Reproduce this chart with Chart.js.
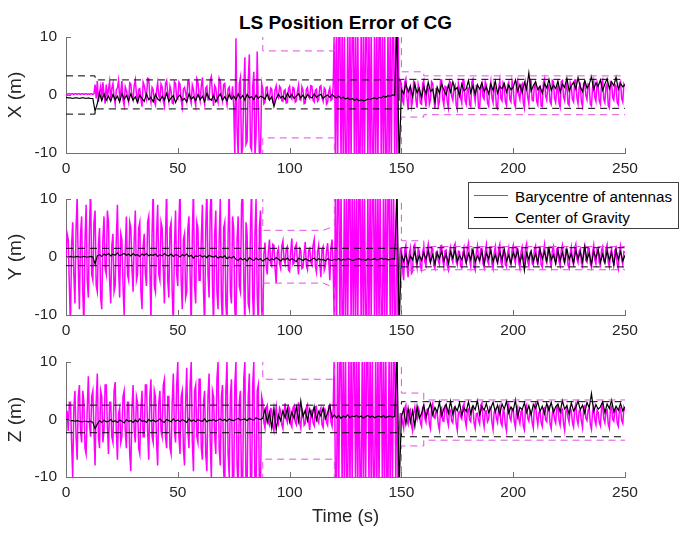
<!DOCTYPE html>
<html>
<head>
<meta charset="utf-8">
<script src="https://cdn.jsdelivr.net/npm/chart.js@4.4.1/dist/chart.umd.min.js"></script>
<style>
body { margin: 0; background: #fff; width: 680px; height: 533px; position: relative; overflow: hidden; font-family: Arial, "Liberation Sans", sans-serif; }
canvas { position: absolute; left: 0; }
#title { position: absolute; left: 0; width: 691px; top: 13px; line-height: 1; text-align: center; font-weight: bold; font-size: 19px; color: #000; }
#legend { position: absolute; left: 468px; top: 182px; width: 209px; height: 45px; border: 1px solid #404040; background: #fff; z-index: 5; font-size: 15.2px; line-height: 17px; color: #000; }
#legend .ln { position: absolute; left: 5px; width: 34px; height: 0; }
#legend .tx { position: absolute; left: 46px; white-space: nowrap; }
</style>
</head>
<body>
<div id="title">LS Position Error of CG</div>
<canvas id="cx" width="680" height="180" style="top:0px"></canvas>
<canvas id="cy" width="680" height="170" style="top:170px"></canvas>
<canvas id="cz" width="680" height="193" style="top:340px"></canvas>
<div id="legend">
  <div class="ln" style="top:12px;border-top:1px solid #ff00ff"></div>
  <div class="tx" style="top:5px">Barycentre of antennas</div>
  <div class="ln" style="top:34px;border-top:1px solid #000"></div>
  <div class="tx" style="top:26px">Center of Gravity</div>
</div>
<script>
// sample grids: barycentre every 0.5 s, CG every 1 s
const magTime = [];
for (let i = 0; i <= 500; i++) magTime.push(i / 2);
const cgTime = [];
for (let t = 0; t <= 250; t++) cgTime.push(t);

// ---- X error ----
const magX = [
  0.2, 0.1, 0.2, 0.2, 0.1, 0.2, 0.2, 0.1, 0.2, 0.2, 0.1, 0.2, 0.2, 0.1, 0.2, 0.2, 0.1, 0.2, 0.2, 0.1,
  0.2, 0.1, 0.2, 0.2, 0.1, 0.2, 1.8, -0.6, 2.4, -1.2, 0.5, 1.5, -0.8, 2.2, 0.3, -1.5, 1.8, -0.4, 1.0, 2.3,
  -1.0, 1.2, 2.0, -0.3, -1.6, 0.9, 1.2, 2.5, -0.5, 0.6, 2.4, -0.9, -1.8, 1.4, 0.8, -0.2, -1.2, 2.1, 1.9, -0.4,
  -0.9, 1.6, 2.6, 0.2, -1.4, 1.0, 1.1, -0.7, -2.0, 2.2, 1.6, 0.4, -0.6, 2.9, 2.8, -0.3, -1.3, 1.3, 0.9, -1.1,
  -1.7, 0.8, 2.1, -0.2, -0.8, 1.9, 1.4, -1.0, -1.9, 2.0, 2.5, 0.3, -1.1, 1.5, 0.7, -1.4, -1.5, 2.3, 2.0, -0.5,
  -0.7, 2.2, 1.8, -0.9, -2.1, 1.0, 1.3, 0.4, -0.9, 2.4, 2.6, -0.6, -1.4, 1.7, 1.0, -0.8, -1.8, 2.8, 2.2, 0.1,
  -1.0, 1.5, 3.0, -0.4, -1.6, 1.2, 1.5, -0.8, -0.8, 2.6, 3.2, 0.0, -1.9, 1.6, 1.2, -0.6, -1.3, 2.9, 2.4, -0.2,
  -1.1, 1.8, 2.0, -0.6, -1.7, 1.1, 1.4, -0.5, -0.6, 1.5, -2.0, -10.5, 9.8, -6.0, -10.5, 2.0, 3.0, -10.5, -9.0, 1.0,
  6.5, -8.5, -8.0, 2.5, 7.0, -9.0, -9.5, 1.5, 4.0, -10.5, -7.0, 7.5, -2.0, -10.5, -10.5, 2.0, 1.0, -1.5, -1.2, 1.3,
  1.4, -0.6, -0.8, 1.2, 1.0, -1.3, -1.5, 0.9, 1.6, -0.2, -0.5, 1.5, 1.2, -1.0, -1.1, 0.7, 0.9, -1.4, -1.3, 1.1,
  1.5, -0.4, -0.7, 1.3, 1.1, -1.2, -1.0, 0.6, 1.7, -0.8, -0.9, 1.4, 0.8, -1.5, -1.4, 1.0, 1.3, -0.3, -0.6, 1.6,
  1.5, -0.9, -1.2, 0.8, 1.0, -1.1, -0.8, 1.4, 1.6, -0.5, -1.1, 1.2, 0.9, -1.6, -1.3, 0.6, 1.2, -0.9, -0.7, 1.5,
  12, -12, 12, -12, 12, 12, -12, 12, -12, 12, -12, -12, 12, -12, 12, -12, 12, 12, -12, 12,
  -12, 12, -12, -12, 12, -12, 12, -12, 12, 12, -12, 12, -12, 12, -12, -12, 12, -12, 12, -12,
  12, 12, -12, 12, -12, 12, -12, -12, 12, -12, 12, -12, 12, 12, -12, 12, -12, 12, -1.0, 2.5,
  2.0, -1.0, -1.5, 2.2, 2.8, -0.5, -2.6, 1.0, 1.5, -2.0, -1.0, 2.4, 2.2, -0.9, -2.2, 1.8, 0.8, -1.4, -1.6, 2.0,
  2.5, -0.6, -2.0, 1.4, 1.2, -1.6, -0.8, 2.3, 2.0, -0.4, -2.4, 1.1, 1.0, -1.9, -1.2, 2.6, 2.6, -0.7, -1.8, 1.5,
  1.4, -1.2, -2.2, 2.4, 2.1, -0.2, -0.9, 1.3, 1.7, -1.8, -2.5, 2.0, 0.9, -0.5, -1.4, 2.5, 2.4, -1.0, -1.6, 1.2,
  1.2, -1.7, -2.0, 2.2, 2.7, 0.1, -1.1, 1.6, 1.5, -2.3, -2.3, 1.4, 2.0, -0.3, -0.7, 2.3, 1.8, -1.4, -1.9, 0.9,
  2.3, -0.5, -1.3, 1.9, 1.1, -2.1, -2.4, 1.2, 2.5, -0.6, -1.0, 2.1, 1.6, -1.2, -1.8, 1.7, 2.2, -0.8, -1.2, 2.4,
  1.4, -1.5, -2.1, 2.0, 2.6, 0.0, -0.8, 1.5, 1.9, -1.3, -2.2, 2.2, 1.3, -0.4, -1.5, 2.7, 2.4, -0.9, -1.0, 1.8,
  2.0, -1.1, -1.7, 1.3, 1.5, -1.9, -2.0, 2.1, 2.8, -0.2, -0.9, 1.6, 1.7, -1.2, -1.6, 2.5, 2.3, -0.6, -1.3, 1.0,
  1.6, -1.4, -2.1, 2.3, 2.5, -0.3, -1.0, 1.2, 2.0, -1.5, -1.8, 2.1, 1.4, -0.8, -1.2, 2.6, 2.6, -0.5, -1.5, 1.4,
  1.8, -1.2, -2.0, 2.0, 2.2, -0.1, -0.8, 1.9, 1.7, -1.6, -1.9, 1.3, 2.4, -0.4, -1.1, 2.2, 1.5, -1.0, -1.6, 2.1,
  2.6, -0.7, -1.3, 1.5, 1.9, -1.8, -2.2, 2.3, 2.1, -0.5, -0.9, 1.8, 1.6, -1.3, -1.7, 2.0, 2.3, -0.6, -1.2, 1.9,
  1.5
];
const cgX = [
  -0.4, -0.5, -0.5, -0.6, -0.5, -0.5, -0.6, -0.5, -0.5, -0.6,
  -0.5, -0.6, -0.6, -2.8, -1.5, 0.3, -1.0, 0.2, -0.9, -0.2,
  -1.1, 0.1, -0.8, -0.2, -1.2, 0.3, -0.7, -0.1, -1.0, 0.2,
  -0.9, -0.3, -1.3, 0.0, -0.6, -1.1, 0.2, -0.8, -0.4, -1.2,
  0.1, -0.7, -1.0, -0.2, -0.9, 0.3, -1.1, -0.5, -0.1, -1.3,
  -0.4, 0.0, -0.9, -0.6, -1.2, 0.2, -0.7, -0.3, -1.0, 0.1,
  -0.8, -0.2, -1.1, 0.3, -0.6, -0.9, 0.0, -1.2, -0.4, 0.2,
  -0.9, -0.3, -1.0, 0.1, -0.7, -0.2, -0.8, 0.2, -0.6, -0.1,
  -0.9, 0.1, -0.5, -0.3, -0.8, 0.0, -0.6, -0.2, -0.4, -0.7,
  0.2, -0.9, -0.3, -2.0, -0.6, 0.1, -0.5, -0.2, -0.8, 0.3,
  -0.4, 0.1, -0.6, -0.2, 0.2, -0.5, 0.0, -0.7, 0.1, -0.3,
  -0.5, 0.2, -0.4, -0.1, 0.1, -0.6, -0.2, 0.0, -0.4, 0.1,
  -0.3, -0.5, -0.2, -0.6, -0.4, -0.7, -0.5, -0.8, -0.6, -0.9,
  -0.7, -1.0, -0.8, -1.0, -0.9, -0.7, -0.8, -0.6, -0.5, -0.7,
  -0.4, -0.5, -0.2, -0.4, -0.1, -0.2, 0.0, -0.1, 12, -12,
  1.0, 0.2, 2.0, 0.5, 1.5, -0.3, 1.8, 0.4, 1.2, -0.5,
  1.6, 0.1, 2.2, 0.6, 1.0, -1.2, 1.4, 0.3, 2.0, 0.8,
  0.0, 1.7, 0.5, 2.3, 0.9, 1.3, -0.2, 1.9, 0.7, 1.1,
  2.5, 0.4, 1.6, 0.1, 1.8, 1.0, 2.1, 0.6, 1.4, 0.2,
  1.9, 0.8, 2.4, 0.3, 1.5, 1.1, 2.0, 0.5, 1.7, 0.9,
  1.3, 2.6, 0.6, 1.8, 0.4, 2.2, 1.0, 3.8, 0.7, 1.6,
  2.3, 0.9, 1.5, 0.3, 2.0, 1.2, 2.7, 0.8, 1.7, 1.1,
  2.4, 0.5, 1.9, 1.3, 2.9, 0.7, 1.6, 2.2, 1.0, 3.0,
  1.4, 0.6, 2.5, 1.2, 1.8, 3.2, 0.9, 2.1, 1.5, 2.6,
  0.8, 1.9, 2.8, 1.1, 2.3, 1.6, 3.1, 1.0, 2.0, 1.4,
  1.8
];

// ---- Y error ----
const magY = [
  0.0, 4.0, 3.0, -5.0, -12, 2.0, 6.0, -3.0, -8.0, 5.0, 10.5, -2.0, -9.0, 4.0, 7.0, -6.0, -12, 3.0, 9.0, -4.0,
  -7.0, 5.0, 12, -3.0, -4.0, 6.0, 8.0, -5.0, -6.0, 2.0, 5.0, -7.0, -9.0, 3.0, 7.0, -2.0, -3.0, 8.0, 6.0, -4.0,
  -8.0, 2.0, 4.0, -6.0, -5.0, 3.0, 9.0, -2.0, -7.0, 4.0, 3.0, -5.0, -10.0, 1.0, 7.0, -3.0, -4.0, 6.0, 5.0, -2.0,
  -6.0, 3.0, 8.0, -4.0, -3.0, 5.0, 6.0, -6.0, -9.0, 2.0, 4.0, -3.0, -5.0, 6.0, 7.0, -2.0, -11, 4.0, 12, -5.0,
  -6.0, 4.0, 9.0, -3.0, -4.0, 6.0, 5.0, -2.0, -8.0, 3.0, 12, -4.0, -7.0, 5.0, 6.0, -6.0, -12, 2.0, 8.0, -3.0,
  -5.0, 6.0, 12, -4.0, -9.0, 3.0, 4.0, -7.0, -6.0, 5.0, 7.0, -3.0, -12, 4.0, 12, -5.0, -8.0, 6.0, 5.0, -4.0,
  -4.0, 3.0, 9.0, -6.0, -12, 5.0, 12, -3.0, -7.0, 8.0, 12, -5.0, -12, 4.0, 8.0, -6.0, -9.0, 3.0, 10.0, -7.0,
  -12, 5.0, 6.0, -8.0, -12, 4.0, 12, -6.0, -8.0, 7.0, 5.0, -9.0, -12, 3.0, 7.0, -5.0, -6.0, 9.0, 12, -4.0,
  -12, 6.0, 4.0, -8.0, -9.0, 5.0, 12, -7.0, -12, 4.0, 10.0, -6.0, -12, 5.0, 8.0, -9.0, -12, 0.5, 2.5, -1.5,
  -3.0, 1.0, 3.0, -1.0, -1.5, 2.2, 2.0, -2.0, -4.5, 0.8, 1.5, -1.2, -2.0, 1.9, 2.8, -0.5, -1.2, 1.4, 1.8, -2.2,
  -2.5, 0.9, 3.2, -1.3, -1.0, 1.7, 2.2, -0.8, -3.0, 1.5, 1.2, -2.0, -1.8, 0.6, 2.6, -1.5, -2.2, 1.1, 1.5, -0.9,
  -1.4, 2.0, 3.0, -1.6, -2.6, 0.8, 2.0, -1.1, -3.5, 1.3, 1.8, -2.3, -1.6, 1.0, 2.4, -0.7, -4.0, 1.6, 3.0, -1.8,
  -12, 12, -12, 12, 12, -12, 12, -12, -12, 12, -12, 12, -12, 12, 12, -12, 12, -12, 12, -12,
  12, -12, 12, 12, -12, 12, -12, 12, -12, -12, 12, -12, 12, -12, 12, 12, -12, 12, -12, 12,
  -12, 12, -12, -12, 12, -12, 12, -12, 12, 12, -12, 12, -12, 12, -12, -12, 12, -12, -2.0, 1.5,
  1.5, -2.0, -4.0, 1.2, 2.0, -1.5, -3.5, 0.5, 1.5, -2.8, -2.5, 1.8, 2.2, -0.6, -1.8, 1.4, 1.0, -1.6, -2.2, 0.7,
  1.8, -0.9, -1.5, 1.2, 2.2, -0.4, -1.0, 1.6, 1.4, -1.5, -2.0, 0.8, 1.0, -0.7, -1.3, 1.9, 2.0, -0.6, -1.7, 1.1,
  1.2, -1.5, -2.2, 0.9, 1.7, -0.3, -0.9, 1.8, 2.3, -0.8, -1.4, 1.0, 0.9, -1.6, -1.9, 0.7, 1.6, -0.4, -1.1, 1.5,
  2.4, -0.5, -1.6, 1.3, 1.1, -1.7, -2.3, 0.8, 1.9, -0.2, -0.8, 1.4, 1.5, -1.1, -1.8, 0.9, 2.1, -0.7, -1.2, 1.6,
  1.3, -1.2, -2.0, 0.7, 1.8, -0.5, -1.0, 1.5, 2.2, -0.9, -1.5, 1.1, 0.8, -1.3, -1.7, 0.6, 1.6, -0.8, -1.3, 1.2,
  2.0, -0.4, -1.1, 1.6, 1.4, -1.0, -1.9, 0.9, 1.7, -0.3, -0.9, 1.5, 2.3, -0.8, -1.6, 0.7, 1.0, -1.1, -1.4, 1.3,
  1.9, -0.6, -1.2, 1.0, 1.5, -1.3, -1.8, 0.8, 2.1, -0.4, -1.0, 1.4, 1.3, -0.9, -1.7, 1.1, 1.8, -0.3, -0.8, 1.4,
  1.6, -0.8, -1.5, 1.2, 2.0, -0.5, -1.1, 1.3, 1.2, -1.4, -1.9, 0.6, 1.7, -0.7, -1.3, 1.5, 2.2, -0.4, -1.0, 1.0,
  1.4, -1.0, -1.6, 0.9, 1.9, -0.6, -0.9, 1.6, 1.5, -1.2, -1.8, 0.8, 2.0, -0.5, -1.2, 1.3, 1.1, -1.0, -1.5, 1.2,
  1.8, -0.7, -1.0, 1.4, 2.1, -0.9, -1.7, 0.7, 1.3, -0.6, -1.1, 1.2, 1.6, -1.1, -2.0, 0.8, 1.9, -0.4, -1.3, 0.9,
  0.8
];
const cgY = [
  0.0, 0.0, 0.1, 0.0, 0.0, 0.1, 0.0, 0.0, 0.1, 0.0,
  0.0, 0.1, 0.0, -1.2, 0.2, 0.4, 0.1, 0.5, 0.3, 0.6,
  0.2, 0.5, 0.3, 0.7, 0.2, 0.4, 0.6, 0.3, 0.5, 0.2,
  0.6, 0.3, 0.4, 0.1, 0.5, 0.3, 0.6, 0.2, 0.4, 0.3,
  0.5, 0.1, 0.4, 0.2, 0.6, 0.3, 0.2, 0.5, 0.1, 0.4,
  0.3, 0.0, 0.4, 0.2, 0.5, 0.1, 0.3, -0.2, 0.2, 0.1,
  0.3, 0.0, 0.2, -0.1, 0.3, 0.1, 0.0, 0.2, -0.2, 0.1,
  -0.1, 0.2, -0.3, 0.0, -0.2, 0.1, -0.4, -0.6, -0.2, -0.5,
  -0.3, -0.7, -0.1, -0.4, -0.6, -0.2, -0.5, -0.3, -0.7, -0.4,
  -0.2, -0.6, -0.3, -0.5, -0.1, -0.4, -0.7, -0.3, -0.5, -0.2,
  -0.6, -0.3, -0.5, -0.8, -0.2, -0.4, -0.6, -0.3, -0.5, -0.7,
  -0.4, -0.2, -0.6, -0.3, -0.5, -0.4, -0.7, -0.3, -0.5, -0.6,
  -0.4, -0.5, -0.3, -0.6, -0.4, -0.5, -0.3, -0.4, -0.6, -0.5,
  -0.4, -0.3, -0.5, -0.4, -0.6, -0.3, -0.5, -0.4, -0.3, -0.5,
  -0.4, -0.2, -0.4, -0.3, -0.5, -0.4, -0.3, -0.4, 12, -12,
  0.5, -0.8, 0.6, -1.3, 0.2, -0.5, 0.9, -1.0, 0.3, -0.6,
  0.8, -0.4, 1.1, -0.9, 0.4, -1.2, 0.7, -0.3, 1.0, -0.7,
  0.5, -1.1, 0.9, -0.2, 1.2, -0.8, 0.3, -0.5, 0.8, -1.0,
  0.6, -0.4, 1.3, -0.9, 0.2, -0.6, 1.0, -1.2, 0.7, -0.3,
  1.1, -0.8, 0.4, -1.0, 0.9, -0.5, 1.4, -0.7, 0.3, -1.1,
  0.8, -0.2, 1.2, -0.9, 0.5, -2.3, 0.7, -0.4, 1.0, -0.8,
  0.6, -1.0, 1.3, -0.3, 0.9, -0.7, 1.5, -0.5, 0.4, -1.2,
  1.1, -0.6, 0.8, -0.9, 1.4, -0.4, 0.6, -1.1, 1.2, -0.3,
  0.9, -0.8, 1.8, -0.5, 0.7, -1.3, 1.0, -0.2, 1.3, -0.9,
  0.5, -1.0, 1.1, -0.6, 0.8, -1.5, 1.2, -0.4, 0.9, -0.7,
  0.3
];

// ---- Z error ----
const magZ = [
  0.0, 1.5, -2.0, 3.0, 3.0, -4.0, -10.0, 2.0, 5.0, -3.0, -7.0, 4.0, 6.0, -2.0, -4.0, 5.0, 3.0, -5.0, -6.0, 2.0,
  7.5, -1.0, -3.0, 4.0, 5.0, -2.0, -8.0, 3.0, 8.0, -3.0, -5.0, 5.0, 4.0, -4.0, -2.0, 6.0, 6.0, -1.0, -6.0, 3.0,
  3.0, -3.0, -4.0, 5.0, 6.5, -2.0, -7.0, 1.0, 2.0, -4.0, -3.0, 4.0, 5.0, -2.0, -5.0, 3.0, 3.0, -6.0, -9.0, 2.0,
  6.0, -2.0, -4.0, 4.0, 3.0, -5.0, -6.0, 2.0, 5.0, -3.0, -3.0, 6.0, 6.0, -2.0, -7.0, 4.0, 7.0, -3.0, -4.0, 5.0,
  4.0, -4.0, -8.0, 3.0, 5.0, -2.0, -3.0, 6.0, 7.0, -3.0, -5.0, 4.0, 4.0, -5.0, -6.0, 3.0, 8.0, -2.0, -4.0, 6.0,
  10.0, -3.0, -6.0, 4.0, 5.0, -5.0, -8.0, 3.0, 9.0, -2.0, -5.0, 6.0, 10.0, -4.0, -9.0, 5.0, 6.0, -3.0, -4.0, 7.0,
  7.0, -5.0, -7.0, 3.0, 5.0, -6.0, -9.0, 4.0, 8.0, -4.0, -10.0, 5.0, 4.0, -3.0, -6.0, 7.0, 10.0, -5.0, -8.0, 4.0,
  6.0, -9.0, -12, 5.0, 10.0, -6.0, -10.0, 4.0, 7.0, -12, -12, 6.0, 10.0, -8.0, -12, 3.0, 5.0, -12, -12, 7.0,
  10.0, -12, -12, 4.0, 8.0, -10.0, -12, 6.0, 10.0, -12, -12, 5.0, 6.0, -12, -12, 4.0, 3.0, -0.5, -1.5, 2.0,
  2.5, -0.5, -1.0, 1.9, 1.8, -1.2, -2.0, 0.6, 2.2, -0.2, -0.8, 2.0, 1.5, -0.9, -1.6, 1.2, 2.8, 0.1, -0.5, 2.3,
  1.9, -0.8, -1.3, 2.0, 2.4, -0.4, -0.9, 1.6, 3.0, -0.6, -1.5, 1.8, 1.2, -1.0, -0.7, 2.1, 2.6, -0.3, -1.8, 1.4,
  1.6, -0.6, -1.1, 2.2, 2.3, -0.2, -0.6, 1.5, 2.0, -0.9, -1.4, 1.9, 1.7, -0.5, -1.0, 2.4, 2.5, -0.4, -1.2, 1.8,
  12, -12, -12, 12, -12, 12, 12, -12, 12, -12, 12, -12, -12, 12, -12, 12, -12, 12, 12, -12,
  12, -12, 12, -12, -12, 12, -12, 12, -12, 12, 12, -12, 12, -12, 12, -12, -12, 12, -12, 12,
  -12, 12, 12, -12, 12, -12, 12, -12, -12, 12, -12, 12, -12, 12, 12, -12, 12, -12, -2.0, 1.0,
  1.0, -0.5, -1.5, 2.0, 2.5, -0.2, -0.8, 1.6, 1.8, -1.0, -2.0, 1.2, 2.2, 0.5, 0.0, 2.1, 1.5, -0.6, -1.2, 2.0,
  2.4, 0.2, -0.5, 1.8, 1.9, -0.8, -1.6, 2.2, 2.8, 0.4, 0.2, 1.5, 1.2, -0.9, -1.8, 1.6, 2.0, -0.2, -0.3, 2.4,
  2.6, 0.0, -1.0, 1.4, 1.6, -0.3, -0.6, 2.0, 2.2, -0.7, -1.9, 1.2, 1.4, 0.5, 0.1, 2.3, 2.7, -0.1, -1.2, 1.6,
  1.8, -0.1, -0.4, 2.1, 2.3, -0.6, -1.5, 1.0, 1.1, -0.2, -0.8, 2.5, 2.9, 0.0, -1.3, 1.5, 1.5, -0.4, 0.0, 2.2,
  2.1, -0.5, -1.7, 1.3, 1.7, 0.2, -0.5, 2.0, 2.4, -0.6, -1.1, 1.6, 1.3, -1.0, -2.0, 1.8, 2.6, 0.3, -0.2, 1.9,
  1.9, -0.4, -1.4, 1.7, 2.2, 0.1, -0.7, 1.4, 1.6, -1.1, -1.8, 2.0, 2.5, 0.2, -0.3, 1.6, 1.2, -0.6, -1.5, 2.4,
  2.8, 0.4, -0.9, 1.2, 1.4, -0.5, -1.2, 1.8, 2.0, -0.1, -0.4, 2.1, 2.3, -0.8, -1.6, 1.1, 1.7, 0.0, -0.6, 2.3,
  2.5, -0.2, -1.0, 1.6, 1.8, -0.7, -1.9, 1.3, 2.1, 0.3, -0.5, 2.0, 1.5, -0.6, -1.3, 1.9, 2.7, 0.1, -0.8, 1.5,
  1.6, -0.3, -1.4, 2.2, 2.4, 0.2, -0.2, 1.7, 1.9, -0.9, -1.7, 1.4, 2.2, -0.1, -0.9, 1.6, 1.3, -0.5, -1.1, 2.0,
  2.6, 0.1, -0.6, 1.5, 1.7, -0.8, -1.5, 1.9, 2.3, 0.0, -0.3, 1.8, 1.8, -0.6, -1.2, 1.7, 2.0, -0.2, -0.7, 2.1,
  1.5
];
const cgZ = [
  0.0, -0.1, -0.2, -0.2, -0.3, -0.2, -0.3, -0.4, -0.3, -0.3,
  -0.4, -0.3, -0.5, -1.6, -0.8, -0.2, -0.5, -0.1, -0.4, -0.3,
  0.0, -0.4, -0.2, -0.5, -0.1, -0.3, -0.6, 0.0, -0.3, -0.2,
  -0.5, -0.1, -0.4, 0.1, -0.3, -0.2, -0.5, 0.0, -0.3, -0.1,
  -0.4, -0.2, 0.1, -0.3, -0.5, 0.0, -0.2, -0.4, 0.1, -0.3,
  -0.1, -0.4, 0.0, -0.2, -0.5, 0.1, -0.3, -0.1, -0.4, 0.0,
  -0.2, -0.3, 0.1, -0.4, -0.1, -0.2, 0.0, -0.3, -0.1, 0.1,
  -0.2, 0.0, -0.3, 0.1, -0.1, -0.2, 0.0, 0.2, -0.1, 0.0,
  0.1, -0.2, 0.2, 0.0, -0.1, 0.3, 0.1, 0.0, 0.2, 1.8,
  -0.5, 1.2, -1.5, 2.0, -1.8, 0.8, -0.2, 1.5, 0.3, 1.9,
  -0.4, 1.3, 0.2, 2.2, -0.3, 3.2, 0.5, 1.6, -0.2, 1.8,
  0.4, 2.3, -0.1, 1.4, 0.6, 2.0, 0.1, 1.1, 2.5, 0.3,
  0.8, 0.3, 0.7, 0.2, 0.6, 0.4, 0.8, 0.3, 0.6, 0.5,
  0.7, 0.4, 0.6, 0.2, 0.5, 0.7, 0.4, 0.6, 0.3, 0.5,
  0.6, 0.4, 0.7, 0.3, 0.5, 0.6, 0.4, 0.5, 12, -12,
  0.5, 1.8, -0.8, 2.0, -0.5, 1.5, -1.2, 2.3, 0.2, 1.0,
  2.5, 0.4, 1.7, 2.8, 0.8, 2.1, 1.3, 3.0, 0.6, 1.9,
  2.6, 1.1, 3.2, 0.9, 2.2, 1.5, 2.9, 0.7, 2.0, 1.4,
  3.1, 1.0, 2.4, 1.7, 3.3, 0.8, 2.3, 1.6, 2.8, 1.2,
  2.0, 3.0, 1.3, 2.5, 0.9, 2.7, 1.8, 3.2, 1.1, 2.2,
  1.5, 3.4, 0.4, 2.1, 1.7, 2.9, 1.2, 2.4, 0.8, 2.6,
  1.9, 3.1, 1.4, 2.3, 1.0, 2.8, 1.6, 3.0, 1.2, 2.2,
  2.7, 1.3, 3.3, 1.8, 2.4, 0.9, 2.9, 1.5, 2.1, 3.2,
  1.7, 2.5, 1.1, 3.0, 2.0, 4.5, 1.4, 2.6, 1.8, 2.2,
  3.1, 1.2, 2.7, 1.9, 3.4, 1.3, 2.3, 1.6, 2.8, 1.5,
  2.2
];

// error bounds (dashed), as step breakpoints
const cgBoundTimes = [0, 13, 13, 150, 150, 250];
const cgXUpper = [3.3, 3.3, 2.6, 2.6, 2.7, 2.7];
const cgXLower = [-3.3, -3.3, -2.4, -2.4, -2.3, -2.3];
const cgYUpper = [1.5, 1.5, 1.5, 1.5, 1.6, 1.6];
const cgYLower = [-1.5, -1.5, -1.5, -1.5, -1.7, -1.7];
const cgZUpper = [2.5, 2.5, 2.5, 2.5, 3.1, 3.1];
const cgZLower = [-2.3, -2.3, -2.3, -2.3, -3.0, -3.0];

const magBoundTimes = [0, 88, 88, 115, 120, 120, 150, 150, 160, 160, 250];
const magXUpper = [14, 14, 7.6, 7.6, 7.6, 14, 14, 4.0, 4.0, 3.3, 3.3];
const magXLower = [-14, -14, -7.4, -7.4, -7.4, -14, -14, -3.8, -3.8, -3.4, -3.4];
const magYUpper = [14, 14, 4.6, 4.6, 5.3, 14, 14, 2.8, 2.8, 1.8, 1.8];
const magYLower = [-14, -14, -4.5, -4.5, -5.3, -14, -14, -2.3, -2.3, -2.2, -2.2];
const magZUpper = [14, 14, 7.0, 7.0, 7.0, 14, 14, 4.6, 4.6, 3.4, 3.4];
const magZLower = [-14, -14, -6.9, -6.9, -6.9, -14, -14, -4.6, -4.6, -3.6, -3.6];

const xTicks = [0, 50, 100, 150, 200, 250];
const yTicks = [-10, 0, 10];

const MAG = '#ff00ff';
const AXIS = '#707070';
const TXT = '#262626';
const FONT = 'Arial, "Liberation Sans", sans-serif';

const pts = (xs, ys) => ys.map((v, i) => ({ x: xs[i], y: v }));

// MATLAB style ticks pointing into the plot
const inwardTicks = {
    id: 'inwardTicks',
    afterDraw(chart) {
        const { ctx, chartArea, scales } = chart;
        ctx.save();
        ctx.strokeStyle = AXIS;
        ctx.lineWidth = 1;
        xTicks.forEach((v) => {
            const px = Math.round(scales.x.getPixelForValue(v)) + 0.5;
            ctx.beginPath();
            ctx.moveTo(px, chartArea.bottom);
            ctx.lineTo(px, chartArea.bottom - 5);
            ctx.stroke();
        });
        yTicks.forEach((v) => {
            const py = Math.round(scales.y.getPixelForValue(v)) + 0.5;
            ctx.beginPath();
            ctx.moveTo(chartArea.left, py);
            ctx.lineTo(chartArea.left + 5, py);
            ctx.stroke();
        });
        ctx.restore();
    },
};

const makeChart = (id, yLabel, mag, cg, cgUp, cgLo, magUp, magLo, padTop, xHeight, xTitle) => {
    const dash = [7, 5];
    new Chart(document.getElementById(id), {
        type: 'line',
        data: {
            datasets: [
                { data: pts(cgBoundTimes, cgUp), borderColor: '#000', borderDash: dash, order: 0 },
                { data: pts(cgBoundTimes, cgLo), borderColor: '#000', borderDash: dash, order: 0 },
                { data: pts(magBoundTimes, magUp), borderColor: '#e050e0', borderDash: dash, order: 1 },
                { data: pts(magBoundTimes, magLo), borderColor: '#e050e0', borderDash: dash, order: 1 },
                { data: pts(cgTime, cg), borderColor: '#000', borderWidth: 1.2, order: 2 },
                { data: pts(magTime, mag), borderColor: MAG, borderWidth: 1.5, order: 3 },
            ],
        },
        options: {
            responsive: false,
            animation: false,
            events: [],
            layout: { padding: { top: padTop, right: 55, left: 0, bottom: 0 } },
            elements: {
                point: { radius: 0 },
                line: { borderWidth: 1, tension: 0 },
            },
            plugins: { legend: { display: false }, tooltip: { enabled: false } },
            scales: {
                x: {
                    type: 'linear',
                    min: 0,
                    max: 250,
                    afterBuildTicks: (s) => { s.ticks = xTicks.map((v) => ({ value: v })); },
                    afterFit: (s) => { s.height = xHeight; },
                    ticks: { color: TXT, font: { family: FONT, size: 15.5 }, padding: 6, maxRotation: 0 },
                    grid: { drawOnChartArea: false, drawTicks: false },
                    border: { color: AXIS, width: 1 },
                    title: {
                        display: !!xTitle,
                        text: xTitle || '',
                        color: TXT,
                        font: { family: FONT, size: 18.5 },
                        padding: { top: 0, bottom: 5 },
                    },
                },
                y: {
                    min: -10,
                    max: 10,
                    afterBuildTicks: (s) => { s.ticks = yTicks.map((v) => ({ value: v })); },
                    afterFit: (s) => { s.width = 66; },
                    ticks: { color: TXT, font: { family: FONT, size: 15.5 }, padding: 9 },
                    grid: { drawOnChartArea: false, drawTicks: false },
                    border: { color: AXIS, width: 1 },
                    title: {
                        display: true,
                        text: yLabel,
                        color: TXT,
                        font: { family: FONT, size: 19 },
                        padding: { top: 4, bottom: 0 },
                    },
                },
            },
        },
        plugins: [inwardTicks],
    });
};

makeChart('cx', 'X (m)', magX, cgX, cgXUpper, cgXLower, magXUpper, magXLower, 37, 27, null);
makeChart('cy', 'Y (m)', magY, cgY, cgYUpper, cgYLower, magYUpper, magYLower, 29, 25, null);
makeChart('cz', 'Z (m)', magZ, cgZ, cgZUpper, cgZLower, magZUpper, magZLower, 22, 56, 'Time (s)');
</script>
</body>
</html>
